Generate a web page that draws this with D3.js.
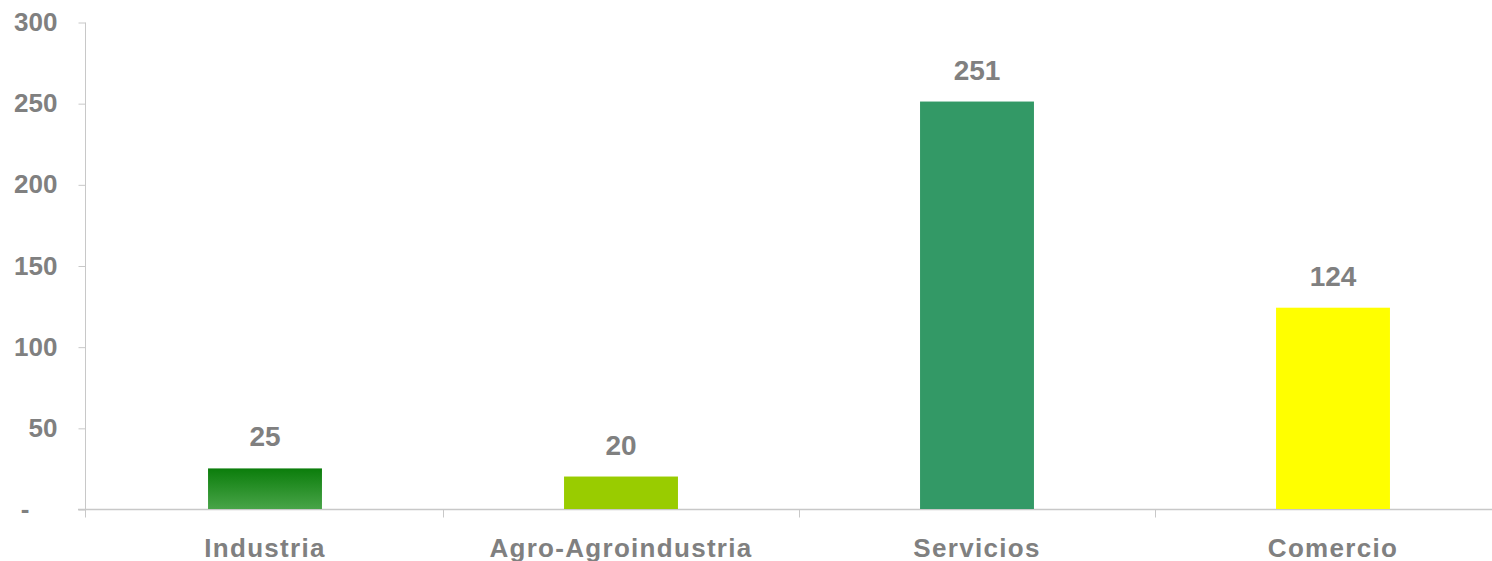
<!DOCTYPE html>
<html>
<head>
<meta charset="utf-8">
<script src="https://cdn.jsdelivr.net/npm/d3@7"></script>
<style>
  html, body { margin: 0; padding: 0; background: #fff; overflow: hidden; }
  svg { display: block; }
  text { font-family: "Liberation Sans", Arial, sans-serif; font-weight: bold; fill: #808080; }
</style>
</head>
<body>
<div class="canvas"></div>
<script>
const categories = ['Industria', 'Agro-Agroindustria', 'Servicios', 'Comercio'];
const values = [25, 20, 251, 124];
const barColors = ['url(#industriaGrad)', '#99cc00', '#339966', '#ffff00'];
const yTicks = [0, 50, 100, 150, 200, 250, 300];

const width = 1492, height = 561;
const axisX = 85;

const svg = d3.select('.canvas')
    .append('svg')
    .attr('width', width)
    .attr('height', height)

const defs = svg.append('defs')
const grad = defs.append('linearGradient')
    .attr('id', 'industriaGrad')
    .attr('x1', 0).attr('y1', 0).attr('x2', 0).attr('y2', 1)
grad.append('stop').attr('offset', '0%').attr('stop-color', '#0b7d0b')
grad.append('stop').attr('offset', '100%').attr('stop-color', '#48a448')

const x = d3.scaleBand()
    .domain(categories)
    .range([87, 1511])
    .padding(0)

const y = d3.scaleLinear()
    .domain([0, 300])
    .range([509, 22])

const barWidth = x.bandwidth() * 0.32;

// y axis
const yAxis = d3.axisLeft(y)
    .tickValues(yTicks)
    .tickSize(7)
    .tickPadding(21)
    .tickFormat(d => d === 0 ? '-' : d)

const yAxisGroup = svg.append('g')
    .attr('transform', `translate(${axisX + 0.5}, 0.5)`)
    .call(yAxis)

yAxisGroup.select('.domain')
    .attr('d', `M0,${y(300)}V${y(0) + 8}`)
    .attr('stroke', '#c8c8c8')
yAxisGroup.selectAll('line').attr('stroke', '#c8c8c8')
yAxisGroup.selectAll('text')
    .attr('font-size', 26)
    .attr('dy', null)
    .attr('y', 8)
    .attr('fill', '#808080')
    .attr('x', d => d === 0 ? -56 : -28)

// x axis
const xAxisGroup = svg.append('g')
    .attr('transform', `translate(0, ${y(0) + 0.5})`)

xAxisGroup.append('line')
    .attr('x1', axisX - 7).attr('x2', width + 20)
    .attr('y1', 0).attr('y2', 0)
    .attr('stroke', '#c8c8c8')
    .attr('stroke-width', 1.5)

xAxisGroup.selectAll('.cat-tick')
    .data(categories.slice(1))
    .enter()
    .append('line')
    .attr('class', 'cat-tick')
    .attr('x1', d => Math.round(x(d)) + 0.5)
    .attr('x2', d => Math.round(x(d)) + 0.5)
    .attr('y1', 0).attr('y2', 8)
    .attr('stroke', '#c8c8c8')

xAxisGroup.selectAll('.cat-label')
    .data(categories)
    .enter()
    .append('text')
    .attr('class', 'cat-label')
    .attr('x', d => x(d) + x.bandwidth() / 2)
    .attr('y', 47)
    .attr('text-anchor', 'middle')
    .attr('font-size', 26)
    .style('letter-spacing', '1.3px')
    .text(d => d)

// bars
svg.selectAll('.bar')
    .data(values)
    .enter()
    .append('rect')
    .attr('class', 'bar')
    .attr('x', (d, i) => x(categories[i]) + (x.bandwidth() - barWidth) / 2)
    .attr('y', d => y(d))
    .attr('width', barWidth)
    .attr('height', d => y(0) - y(d))
    .attr('fill', (d, i) => barColors[i])

// value labels
svg.selectAll('.value')
    .data(values)
    .enter()
    .append('text')
    .attr('class', 'value')
    .attr('x', (d, i) => x(categories[i]) + x.bandwidth() / 2)
    .attr('y', d => y(d) - 22)
    .attr('text-anchor', 'middle')
    .attr('font-size', 28)
    .text(d => d)
</script>
</body>
</html>
